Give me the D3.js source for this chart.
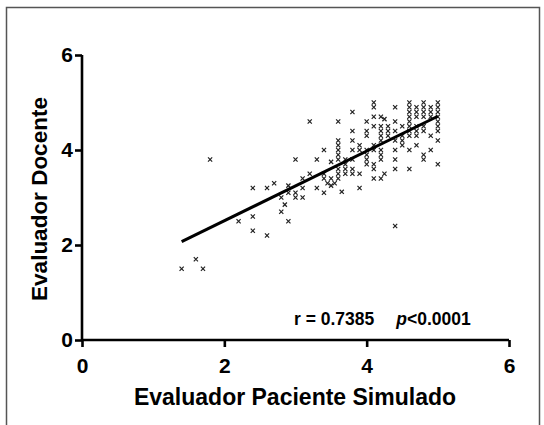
<!DOCTYPE html>
<html>
<head>
<meta charset="utf-8">
<script src="https://cdn.jsdelivr.net/npm/d3@7"></script>
<style>
  html, body { margin: 0; padding: 0; background: #fff; }
  svg { display: block; font-family: "Liberation Sans", Arial, sans-serif; }
</style>
</head>
<body>
<svg id="chart" width="544" height="425"></svg>
<script>
// ---- data ----
const xTicks = [0, 2, 4, 6];
const yTicks = [0, 2, 4, 6];
const xTitle = "Evaluador Paciente Simulado";
const yTitle = "Evaluador Docente";
const fitLine = [[1.4, 2.07], [5.0, 4.71]];
const pointsX = [
  4.1,4.6,4.8,5.0,
  4.1,4.4,4.6,4.7,4.8,4.9,5.0,
  3.8,4.6,4.7,4.8,4.9,5.0,
  4.1,4.2,4.6,4.7,4.8,4.9,5.0,
  4.25,
  3.2,3.6,4.0,4.4,4.6,5.0,
  4.1,4.2,4.3,4.5,4.6,4.7,4.8,5.0,
  3.8,4.0,4.2,4.3,4.4,4.6,4.7,4.8,5.0,
  4.0,4.2,4.3,4.5,4.6,4.7,4.9,
  3.6,3.8,4.2,4.4,4.5,5.0,
  3.6,3.9,4.1,4.5,4.7,
  3.4,3.6,3.8,3.9,4.0,4.1,4.2,4.4,4.6,4.9,
  3.6,4.0,4.2,4.8,
  1.8,3.0,3.3,3.6,3.7,3.8,4.0,4.2,4.4,4.8,
  3.5,
  3.7,4.0,4.1,5.0,
  3.6,3.7,3.8,4.1,4.4,4.6,
  3.2,3.4,3.6,3.7,3.8,3.9,4.25,
  3.1,3.4,3.5,3.6,4.1,4.2,
  2.7,3.45,3.55,
  2.9,3.5,
  2.4,2.6,3.1,3.3,3.9,
  3.65,
  2.9,3.0,3.4,
  2.8,3.0,3.1,
  2.85,
  2.8,
  2.4,
  2.2,2.9,
  4.4,
  2.4,
  2.6,
  1.6,
  1.4,1.7
];
const pointsY = [
  5.0,5.0,5.0,5.0,
  4.9,4.9,4.9,4.9,4.9,4.9,4.9,
  4.8,4.8,4.8,4.8,4.8,4.8,
  4.7,4.7,4.7,4.7,4.7,4.7,4.7,
  4.65,
  4.6,4.6,4.6,4.6,4.6,4.6,
  4.5,4.5,4.5,4.5,4.5,4.5,4.5,4.5,
  4.4,4.4,4.4,4.4,4.4,4.4,4.4,4.4,4.4,
  4.3,4.3,4.3,4.3,4.3,4.3,4.3,
  4.2,4.2,4.2,4.2,4.2,4.2,
  4.1,4.1,4.1,4.1,4.1,
  4.0,4.0,4.0,4.0,4.0,4.0,4.0,4.0,4.0,4.0,
  3.9,3.9,3.9,3.9,
  3.8,3.8,3.8,3.8,3.8,3.8,3.8,3.8,3.8,3.8,
  3.75,
  3.7,3.7,3.7,3.7,
  3.6,3.6,3.6,3.6,3.6,3.6,
  3.5,3.5,3.5,3.5,3.5,3.5,3.5,
  3.4,3.4,3.4,3.4,3.4,3.4,
  3.3,3.3,3.3,
  3.25,3.25,
  3.2,3.2,3.2,3.2,3.2,
  3.12,
  3.1,3.1,3.1,
  3.0,3.0,3.0,
  2.85,
  2.7,
  2.6,
  2.5,2.5,
  2.4,
  2.3,
  2.2,
  1.7,
  1.5,1.5
];
const annotR = "r = 0.7385";
const annotP = ["p", "<0.0001"];

// ---- drawing ----
const svg = d3.select("#chart");
const x = d3.scaleLinear().domain([0, 6]).range([82, 509]);
const y = d3.scaleLinear().domain([0, 6]).range([340, 55]);

// frame
svg.append("path")
  .attr("d", "M6.5,425 L6.5,7.5 L539.5,7.5 L539.5,425")
  .attr("fill", "none").attr("stroke", "#555").attr("stroke-width", 1.5);

const fontSize = 21;

const gx = svg.append("g").attr("transform", `translate(0,${y(0)})`)
  .call(d3.axisBottom(x).tickValues(xTicks).tickFormat(d3.format("d"))
    .tickSize(7).tickPadding(11).tickSizeOuter(0));
const gy = svg.append("g").attr("transform", `translate(${x(0)},0)`)
  .call(d3.axisLeft(y).tickValues(yTicks).tickFormat(d3.format("d"))
    .tickSize(7).tickPadding(2).tickSizeOuter(0));

[gx, gy].forEach(g => {
  g.select(".domain").attr("stroke", "#000").attr("stroke-width", 2.6);
  g.selectAll(".tick line").attr("stroke", "#000").attr("stroke-width", 2.6);
  g.selectAll(".tick text").attr("fill", "#000")
    .style("font-size", fontSize + "px").style("font-weight", "bold")
    .style("font-family", '"Liberation Sans", Arial, sans-serif');
});
gx.select(".domain").attr("d", `M${x(0)},0H${x(6)}`);
gy.select(".domain").attr("d", `M0,${y(0)}V${y(6)}`);

// points
const pts = pointsX.map((v, i) => [v, pointsY[i]]);
const sym = d3.symbol().type(d3.symbolX).size(13);
svg.append("g").selectAll("path").data(pts).join("path")
  .attr("transform", d => `translate(${x(d[0])},${y(d[1])})`)
  .attr("d", sym)
  .attr("fill", "none").attr("stroke", "#222").attr("stroke-width", 1.2);

// regression line
svg.append("path")
  .datum(fitLine)
  .attr("d", d3.line().x(d => x(d[0])).y(d => y(d[1])))
  .attr("fill", "none").attr("stroke", "#000").attr("stroke-width", 3);

// annotation
const t = svg.append("text")
  .attr("x", 294).attr("y", 325)
  .style("font-size", "17.5px").style("font-weight", "bold").attr("fill", "#000");
t.append("tspan").text(annotR);
t.append("tspan").attr("dx", 22).style("font-style", "italic").text(annotP[0]);
t.append("tspan").text(annotP[1]);

// titles
svg.append("text")
  .attr("x", 295).attr("y", 405).attr("text-anchor", "middle")
  .style("font-size", "23px").style("font-weight", "bold").attr("fill", "#000")
  .text(xTitle);
svg.append("text")
  .attr("transform", `translate(47,199) rotate(-90)`).attr("text-anchor", "middle")
  .style("font-size", "22.5px").style("font-weight", "bold").attr("fill", "#000")
  .text(yTitle);
</script>
</body>
</html>
